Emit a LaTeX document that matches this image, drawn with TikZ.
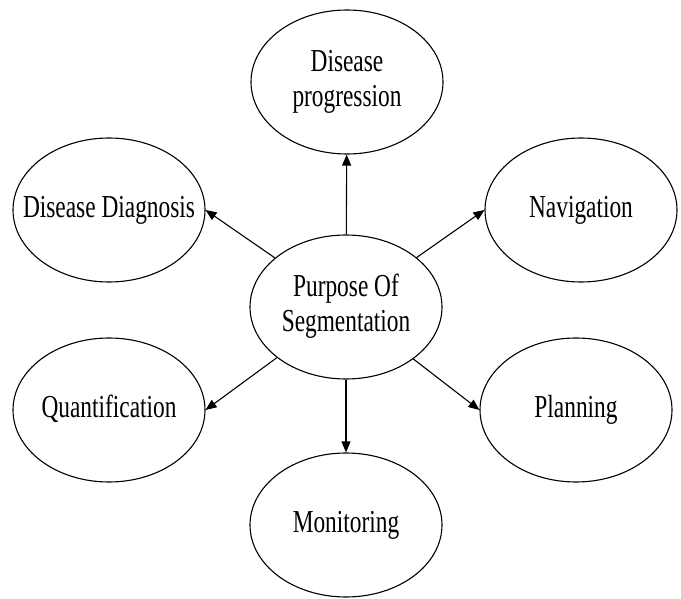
\documentclass[tikz,border=0pt]{standalone}
\usepackage{fontspec}
\setmainfont{Liberation Serif}[FakeStretch=0.73]
\usetikzlibrary{shapes.geometric,arrows.meta}
% centred label whose width does not enlarge the ellipse around it
\newcommand{\bubbletext}[2][0pt]{\makebox[0pt][c]{\raisebox{#1}{\begin{tabular}{@{}c@{}}#2\end{tabular}}}}
\begin{document}
\begin{tikzpicture}[x=1pt,y=-1pt,
  bubble/.style={ellipse,draw,line width=1.1pt,minimum width=192pt,minimum height=144pt,
    inner sep=0pt,align=center,font=\fontsize{32}{36}\selectfont},
  link/.style={line width=1.1pt,-{Triangle[length=11pt,width=9pt]}}]
  \useasboundingbox (0,0) rectangle (681,599);
  % central node
  \node[bubble] (c) at (346,307) {\bubbletext{Purpose Of\\[-1pt]Segmentation}};
  % outcomes
  \node[bubble] (prog) at (347,82) {\bubbletext[-6pt]{Disease\\[-1pt]progression}};
  \node[bubble] (diag) at (109,210) {\bubbletext{Disease Diagnosis}};
  \node[bubble] (nav)  at (581,210) {\bubbletext{Navigation}};
  \node[bubble] (quant) at (109,410) {\bubbletext{Quantification}};
  \node[bubble] (plan) at (576,410) {\bubbletext{Planning}};
  \node[bubble] (mon)  at (346,525) {\bubbletext[-5pt]{Monitoring}};
  % connectors
  \draw[link] (c) -- (prog);
  \draw[link] (c) -- (diag.east);
  \draw[link] (c) -- (nav.west);
  \draw[link] (c) -- (quant.east);
  \draw[link] (c) -- (plan.west);
  \draw[link] (c) -- (mon);
\end{tikzpicture}
\end{document}
